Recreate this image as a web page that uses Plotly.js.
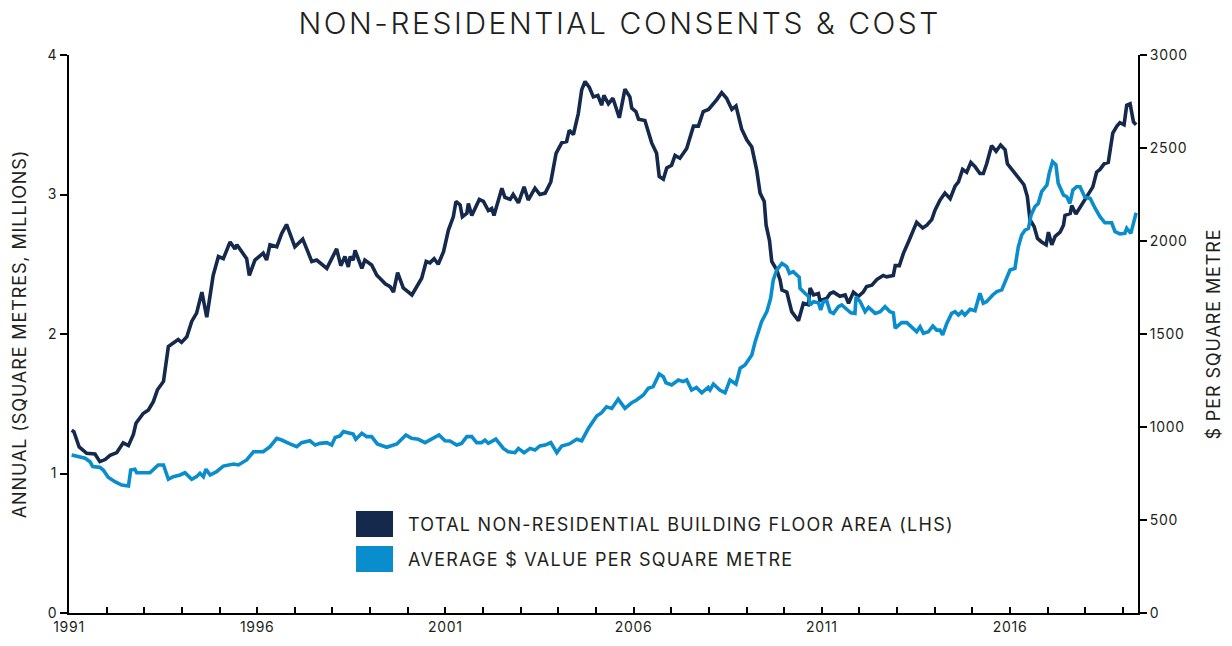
<!DOCTYPE html>
<html>
<head>
<meta charset="utf-8">
<script src="https://cdn.plot.ly/plotly-3.0.1.min.js"></script>
<style>
  html, body { margin: 0; padding: 0; background: #fff; }
  #chart { width: 1232px; height: 646px; }
  #chart .gtitle { letter-spacing: 0.085em; }
  #chart .annotation-text { letter-spacing: 0.07em; }
  #chart .ytitle, #chart .y2title { letter-spacing: 0.05em; }
  #chart .xtick text, #chart .ytick text, #chart .y2tick text { letter-spacing: 0.05em; }
</style>
</head>
<body>
<div id="chart"></div>
<script>
// ---- Data ----
const chartTitle = "NON-RESIDENTIAL CONSENTS & COST";
const areaName = "TOTAL NON-RESIDENTIAL BUILDING FLOOR AREA (LHS)";
const costName = "AVERAGE $ VALUE PER SQUARE METRE";

// Total non-residential building floor area, annual (square metres, millions)
const areaYears = [1991.07,1991.13,1991.27,1991.47,1991.69,1991.82,1991.96,1992.09,1992.27,1992.44,1992.58,1992.71,1992.78,1992.97,1993.11,1993.24,1993.35,1993.51,1993.64,1993.73,1993.90,1993.99,1994.13,1994.26,1994.39,1994.53,1994.66,1994.83,1994.97,1995.10,1995.28,1995.41,1995.46,1995.72,1995.79,1995.94,1996.16,1996.25,1996.34,1996.52,1996.65,1996.78,1997.00,1997.21,1997.32,1997.45,1997.58,1997.85,1997.98,1998.11,1998.22,1998.33,1998.42,1998.47,1998.55,1998.60,1998.78,1998.86,1999.04,1999.18,1999.26,1999.40,1999.53,1999.62,1999.73,1999.88,2000.11,2000.24,2000.37,2000.49,2000.59,2000.70,2000.81,2000.95,2001.08,2001.21,2001.28,2001.39,2001.45,2001.57,2001.61,2001.70,2001.90,2002.01,2002.14,2002.23,2002.29,2002.50,2002.58,2002.72,2002.80,2002.94,2003.09,2003.20,2003.38,2003.51,2003.65,2003.80,2003.94,2004.09,2004.22,2004.29,2004.40,2004.53,2004.62,2004.71,2004.82,2004.93,2005.05,2005.15,2005.21,2005.33,2005.45,2005.62,2005.77,2005.90,2005.95,2006.06,2006.13,2006.30,2006.48,2006.61,2006.68,2006.79,2006.88,2007.01,2007.10,2007.23,2007.41,2007.59,2007.72,2007.85,2007.99,2008.21,2008.34,2008.47,2008.61,2008.72,2008.87,2009.01,2009.14,2009.27,2009.36,2009.47,2009.52,2009.61,2009.67,2009.80,2009.89,2009.94,2010.07,2010.20,2010.38,2010.51,2010.64,2010.69,2010.78,2010.91,2010.95,2011.13,2011.22,2011.31,2011.48,2011.62,2011.71,2011.84,2011.97,2012.10,2012.19,2012.33,2012.46,2012.63,2012.72,2012.90,2012.95,2013.06,2013.17,2013.30,2013.39,2013.52,2013.68,2013.79,2013.92,2014.01,2014.14,2014.27,2014.41,2014.54,2014.63,2014.74,2014.85,2014.96,2015.07,2015.20,2015.29,2015.38,2015.51,2015.63,2015.75,2015.87,2015.93,2016.02,2016.13,2016.25,2016.37,2016.46,2016.53,2016.64,2016.73,2016.84,2016.96,2017.02,2017.11,2017.20,2017.33,2017.42,2017.46,2017.60,2017.64,2017.75,2017.91,2018.04,2018.20,2018.30,2018.39,2018.50,2018.61,2018.73,2018.84,2018.92,2019.03,2019.10,2019.19,2019.28,2019.35];
const areaValues = [1.31,1.30,1.19,1.145,1.14,1.085,1.10,1.13,1.15,1.22,1.20,1.28,1.36,1.43,1.455,1.515,1.60,1.66,1.91,1.93,1.96,1.94,1.98,2.09,2.15,2.30,2.12,2.42,2.555,2.54,2.66,2.61,2.64,2.54,2.42,2.53,2.58,2.53,2.64,2.625,2.72,2.785,2.625,2.68,2.60,2.52,2.53,2.47,2.54,2.61,2.49,2.555,2.48,2.555,2.53,2.60,2.47,2.53,2.495,2.42,2.40,2.36,2.34,2.30,2.44,2.33,2.28,2.34,2.40,2.52,2.51,2.54,2.50,2.59,2.745,2.84,2.95,2.925,2.84,2.865,2.935,2.85,2.965,2.95,2.885,2.90,2.85,3.045,2.98,2.965,3.00,2.94,3.055,2.96,3.045,3.00,3.01,3.09,3.295,3.37,3.38,3.46,3.43,3.58,3.75,3.81,3.77,3.70,3.71,3.64,3.71,3.65,3.69,3.55,3.755,3.70,3.62,3.595,3.54,3.53,3.37,3.295,3.13,3.11,3.19,3.21,3.28,3.26,3.33,3.49,3.49,3.595,3.61,3.68,3.73,3.69,3.61,3.635,3.47,3.39,3.34,3.175,3.01,2.95,2.78,2.67,2.52,2.46,2.39,2.315,2.30,2.16,2.095,2.22,2.21,2.33,2.28,2.29,2.24,2.255,2.29,2.30,2.27,2.28,2.22,2.30,2.27,2.30,2.34,2.35,2.39,2.42,2.41,2.42,2.49,2.49,2.58,2.66,2.72,2.80,2.76,2.78,2.82,2.89,2.96,3.01,2.97,3.06,3.09,3.18,3.16,3.23,3.20,3.15,3.15,3.22,3.35,3.31,3.355,3.32,3.22,3.19,3.16,3.11,3.07,2.985,2.82,2.77,2.685,2.66,2.64,2.73,2.64,2.70,2.73,2.78,2.85,2.865,2.92,2.86,2.925,2.985,3.055,3.16,3.18,3.22,3.23,3.44,3.49,3.515,3.50,3.64,3.65,3.52,3.50];

// Average $ value per square metre
const costYears = [1991.07,1991.29,1991.43,1991.56,1991.63,1991.82,1991.91,1992.04,1992.22,1992.40,1992.58,1992.64,1992.75,1992.80,1993.15,1993.37,1993.51,1993.64,1993.77,1993.95,1994.08,1994.26,1994.39,1994.48,1994.57,1994.64,1994.75,1994.92,1995.10,1995.37,1995.50,1995.72,1995.90,1996.16,1996.34,1996.52,1996.65,1996.87,1997.05,1997.18,1997.40,1997.54,1997.67,1997.85,1997.98,1998.07,1998.20,1998.29,1998.55,1998.62,1998.78,1998.91,1999.04,1999.19,1999.44,1999.71,1999.95,2000.10,2000.28,2000.46,2000.64,2000.83,2000.99,2001.12,2001.30,2001.43,2001.57,2001.70,2001.83,2001.96,2002.05,2002.14,2002.34,2002.54,2002.67,2002.85,2002.94,2003.09,2003.25,2003.38,2003.51,2003.65,2003.80,2003.96,2004.09,2004.29,2004.49,2004.62,2004.80,2005.02,2005.15,2005.28,2005.42,2005.59,2005.77,2005.95,2006.08,2006.26,2006.39,2006.52,2006.68,2006.79,2006.86,2007.01,2007.19,2007.32,2007.41,2007.54,2007.67,2007.81,2007.98,2008.03,2008.12,2008.29,2008.43,2008.56,2008.72,2008.83,2008.96,2009.14,2009.23,2009.40,2009.54,2009.64,2009.71,2009.80,2009.94,2010.07,2010.14,2010.24,2010.40,2010.42,2010.55,2010.64,2010.69,2010.78,2010.91,2010.97,2011.04,2011.13,2011.22,2011.31,2011.44,2011.53,2011.66,2011.77,2011.88,2011.91,2012.02,2012.15,2012.24,2012.42,2012.55,2012.68,2012.81,2012.90,2012.95,2013.12,2013.26,2013.39,2013.52,2013.61,2013.70,2013.83,2013.95,2014.05,2014.14,2014.21,2014.32,2014.45,2014.54,2014.63,2014.72,2014.80,2014.94,2015.07,2015.20,2015.29,2015.38,2015.54,2015.65,2015.78,2015.87,2015.89,2016.00,2016.13,2016.22,2016.31,2016.40,2016.49,2016.56,2016.66,2016.75,2016.84,2016.98,2017.04,2017.13,2017.22,2017.28,2017.42,2017.51,2017.59,2017.67,2017.77,2017.86,2017.99,2018.13,2018.26,2018.39,2018.52,2018.70,2018.79,2018.92,2019.05,2019.10,2019.21,2019.28,2019.35];
const costValues = [849,840,832,813,787,783,769,730,706,688,683,769,773,754,754,796,796,719,733,742,754,719,733,751,733,773,742,760,790,801,796,823,867,867,894,939,930,909,894,916,926,903,912,916,903,944,952,975,962,934,966,948,948,909,891,909,957,939,934,916,934,957,926,925,903,912,948,948,916,916,930,912,935,885,867,862,885,862,885,876,898,903,916,862,898,909,934,926,993,1059,1077,1109,1100,1150,1100,1131,1145,1172,1208,1217,1285,1270,1238,1226,1253,1244,1253,1199,1213,1184,1213,1199,1231,1199,1184,1253,1231,1316,1333,1387,1459,1566,1620,1692,1790,1844,1880,1862,1826,1835,1805,1746,1719,1704,1656,1674,1668,1629,1674,1679,1620,1611,1647,1656,1633,1614,1611,1700,1674,1620,1643,1611,1620,1647,1620,1614,1531,1561,1561,1539,1512,1539,1504,1512,1543,1521,1521,1495,1557,1611,1620,1602,1620,1602,1633,1625,1719,1665,1674,1710,1728,1737,1781,1799,1844,1853,1969,2032,2059,2068,2140,2184,2202,2265,2301,2364,2427,2409,2310,2247,2238,2202,2274,2292,2292,2235,2229,2176,2131,2098,2098,2050,2038,2041,2068,2041,2098,2152];

// Axis ticks
const xTickYears = [1991,1992,1993,1994,1995,1996,1997,1998,1999,2000,2001,2002,2003,2004,2005,2006,2007,2008,2009,2010,2011,2012,2013,2014,2015,2016,2017,2018,2019];
const xTickLabels = ["1991","","","","","1996","","","","","2001","","","","","2006","","","","","2011","","","","","2016","","",""];
const leftTicks = [0,1,2,3,4];
const rightTicks = [0,500,1000,1500,2000,2500,3000];

// ---- Style ----
const DARK = "#15294d";
const LIGHT = "#0a8dcd";
const FONT = "Inter, Lato, 'Noto Sans', sans-serif";
const TEXT = "#231f20";

const traces = [
  {
    x: areaYears, y: areaValues, name: areaName, type: "scatter", mode: "lines",
    line: { color: DARK, width: 3.6 }, yaxis: "y", showlegend: false, hoverinfo: "x+y"
  },
  {
    x: costYears, y: costValues, name: costName, type: "scatter", mode: "lines",
    line: { color: LIGHT, width: 3.6 }, yaxis: "y2", showlegend: false, hoverinfo: "x+y"
  }
];

// Legend drawn as coloured squares + labels (paper coordinates)
const plotL = 69, plotR = 1138, plotT = 55, plotB = 613;
const W = plotR - plotL, H = plotB - plotT;
function px(x) { return (x - plotL) / W; }
function py(y) { return (plotB - y) / H; }

const layout = {
  width: 1232, height: 646,
  margin: { l: plotL, r: 1232 - plotR, t: plotT, b: 646 - plotB, pad: 0 },
  paper_bgcolor: "#ffffff", plot_bgcolor: "#ffffff",
  font: { family: FONT, color: TEXT, size: 14 },
  title: {
    text: chartTitle, x: 0.503, xref: "container", xanchor: "center",
    y: 0.964, yref: "container", yanchor: "middle",
    font: { family: FONT, size: 30, color: TEXT, weight: 300 }
  },
  showlegend: false,
  xaxis: {
    type: "linear", range: [1991, 2019.4],
    tickmode: "array", tickvals: xTickYears, ticktext: xTickLabels,
    ticks: "inside", ticklen: 6, tickwidth: 2, tickcolor: "#000",
    showline: true, linecolor: "#000", linewidth: 2,
    showgrid: false, zeroline: false,
    tickfont: { family: FONT, size: 14, color: TEXT }
  },
  yaxis: {
    range: [0, 4], tickmode: "array", tickvals: leftTicks,
    ticks: "outside", ticklen: 7, tickwidth: 2, tickcolor: "#000",
    showline: true, linecolor: "#000", linewidth: 2,
    showgrid: false, zeroline: false,
    tickfont: { family: FONT, size: 14, color: TEXT },
    title: { text: "ANNUAL (SQUARE METRES, MILLIONS)", font: { family: FONT, size: 18, color: TEXT }, standoff: 17 }
  },
  yaxis2: {
    range: [0, 3000], overlaying: "y", side: "right",
    tickmode: "array", tickvals: rightTicks,
    ticks: "outside", ticklen: 7, tickwidth: 2, tickcolor: "#000",
    showline: true, linecolor: "#000", linewidth: 2,
    showgrid: false, zeroline: false,
    tickfont: { family: FONT, size: 14, color: TEXT },
    title: { text: "$ PER SQUARE METRE", font: { family: FONT, size: 18, color: TEXT }, standoff: 23 }
  },
  shapes: [
    { type: "rect", xref: "paper", yref: "paper", x0: px(356), x1: px(393), y0: py(537), y1: py(511), fillcolor: DARK, line: { width: 0 } },
    { type: "rect", xref: "paper", yref: "paper", x0: px(356), x1: px(393), y0: py(572), y1: py(546), fillcolor: LIGHT, line: { width: 0 } }
  ],
  annotations: [
    { xref: "paper", yref: "paper", x: px(406), y: py(524), xanchor: "left", yanchor: "middle", align: "left", showarrow: false,
      text: areaName, font: { family: FONT, size: 18, color: TEXT } },
    { xref: "paper", yref: "paper", x: px(406), y: py(559), xanchor: "left", yanchor: "middle", align: "left", showarrow: false,
      text: costName, font: { family: FONT, size: 18, color: TEXT } }
  ]
};

Plotly.newPlot("chart", traces, layout, { displayModeBar: false, staticPlot: true });
</script>
</body>
</html>
